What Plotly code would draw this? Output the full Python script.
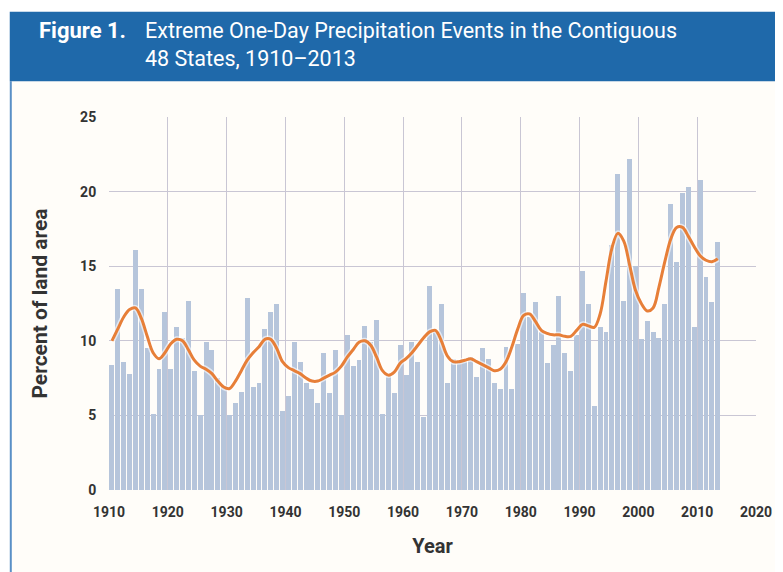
import plotly.graph_objects as go

years = list(range(1910, 2014))

percent_land_area = [
    8.4, 13.5, 8.6, 7.8, 16.1, 13.5, 9.5, 5.1, 8.1, 11.9,
    8.1, 10.9, 10.2, 12.7, 8.0, 5.0, 9.9, 9.4, 7.5, 6.9,
    5.0, 5.8, 6.6, 12.9, 6.9, 7.2, 10.8, 11.9, 12.5, 5.3,
    6.3, 9.9, 8.6, 7.2, 6.8, 5.8, 9.2, 6.5, 9.4, 5.0,
    10.4, 8.3, 8.7, 11.0, 9.9, 11.4, 5.1, 7.7, 6.5, 9.7,
    7.7, 9.9, 8.6, 4.9, 13.7, 10.6, 12.5, 7.2, 8.8, 8.5,
    8.6, 8.9, 7.6, 9.5, 8.8, 7.2, 6.8, 9.6, 6.8, 9.8,
    13.2, 11.6, 12.6, 10.6, 8.5, 9.7, 13.0, 9.2, 8.0, 10.4,
    14.7, 12.5, 5.6, 10.9, 10.6, 16.4, 21.2, 12.7, 22.2, 15.0,
    10.1, 11.3, 10.6, 10.2, 12.5, 19.2, 15.3, 19.9, 20.3, 10.9,
    20.8, 14.3, 12.6, 16.6,
]

smoothed_avg = [
    10.0, 10.8, 11.6, 12.1, 12.2, 11.5, 10.3, 9.2, 8.8, 9.2,
    9.8, 10.1, 10.0, 9.4, 8.7, 8.3, 8.1, 7.8, 7.3, 6.9,
    6.8, 7.3, 8.0, 8.7, 9.2, 9.6, 10.1, 10.1, 9.5, 8.6,
    8.2, 8.0, 7.8, 7.5, 7.3, 7.3, 7.5, 7.7, 7.9, 8.3,
    8.9, 9.4, 9.9, 10.0, 9.7, 8.9, 8.0, 7.7, 7.9, 8.5,
    8.8, 9.2, 9.7, 10.2, 10.6, 10.7, 10.0, 9.0, 8.6, 8.6,
    8.7, 8.8, 8.6, 8.4, 8.2, 8.0, 8.1, 8.6, 9.6, 10.8,
    11.7, 11.8, 11.3, 10.7, 10.5, 10.4, 10.4, 10.3, 10.3, 10.7,
    11.1, 11.0, 10.9, 11.8, 14.0, 16.2, 17.2, 16.7, 15.1, 13.4,
    12.5, 12.0, 12.2, 13.6, 15.3, 16.8, 17.6, 17.6, 17.0, 16.3,
    15.7, 15.4, 15.3, 15.5,
]

x_ticks = [1910, 1920, 1930, 1940, 1950, 1960, 1970, 1980, 1990, 2000, 2010, 2020]
y_ticks = [0, 5, 10, 15, 20, 25]

title_label = "Figure 1."
title_text = "Extreme One-Day Precipitation Events in the Contiguous<br>48 States, 1910–2013"

FONT = "Roboto, Liberation Sans, sans-serif"

line_x = [y + 0.5 for y in years]

fig = go.Figure()
fig.add_trace(go.Bar(
    x=years, y=percent_land_area, offset=0.08, width=0.84,
    marker=dict(color="#b6c5db", line=dict(width=0)),
    hoverinfo="x+y", showlegend=False,
))
fig.add_trace(go.Scatter(
    x=line_x, y=smoothed_avg, mode="lines",
    line=dict(color="rgba(255,255,255,0.6)", width=6, shape="spline"),
    hoverinfo="skip", showlegend=False,
))
fig.add_trace(go.Scatter(
    x=line_x, y=smoothed_avg, mode="lines",
    line=dict(color="#e77f38", width=3, shape="spline"),
    showlegend=False,
))

shapes = [
    # panel background
    dict(type="rect", xref="paper", yref="paper", x0=-0.1534, x1=1.06, y0=-0.26, y1=1.0959,
         fillcolor="#fffdf9", line=dict(width=0), layer="below"),
    # left border of panel
    dict(type="line", xref="paper", yref="paper", x0=-0.1518, x1=-0.1518, y0=-0.26, y1=1.0959,
         line=dict(color="#5a8fc6", width=2)),
    # title bar
    dict(type="rect", xref="paper", yref="paper", x0=-0.1534, x1=1.06, y0=1.0959, y1=1.282,
         fillcolor="#1f69aa", line=dict(width=0)),
]

fig.update_layout(
    width=775, height=564,
    margin=dict(l=101, r=27, t=109, b=82),
    paper_bgcolor="white",
    plot_bgcolor="#efedf6",
    bargap=0,
    shapes=shapes,
    font=dict(family=FONT, color="#333333"),
    xaxis=dict(
        range=[1910, 2020], tickmode="array", tickvals=x_ticks,
        ticktext=[f"<b>{t}</b>" for t in x_ticks],
        tickfont=dict(size=14, color="#333333", family=FONT),
        showgrid=True, gridcolor="#c9c6d4", gridwidth=1,
        zeroline=False, showline=False,
        ticks="outside", ticklen=9, tickcolor="rgba(0,0,0,0)",
        title=dict(text="<b>Year</b>", font=dict(size=20, color="#333333", family=FONT), standoff=20),
    ),
    yaxis=dict(
        range=[0, 25], tickmode="array", tickvals=y_ticks,
        ticktext=[f"<b>{t}</b>" for t in y_ticks],
        tickfont=dict(size=14, color="#333333", family=FONT),
        showgrid=True, gridcolor="#c9c6d4", gridwidth=1,
        zeroline=False, showline=False,
        ticks="outside", ticklen=9, tickcolor="rgba(0,0,0,0)",
        title=dict(text="<b>Percent of land area</b>", font=dict(size=21, color="#333333", family=FONT), standoff=26),
    ),
    annotations=[
        dict(xref="paper", yref="paper", x=-0.1111, y=1.2329, xanchor="left", yanchor="middle",
             text=f"<b>{title_label}</b>", showarrow=False,
             font=dict(size=22, color="white", family=FONT)),
        dict(xref="paper", yref="paper", x=0.0532, y=1.1945, xanchor="left", yanchor="middle",
             text=title_text, showarrow=False, align="left",
             font=dict(size=21.5, color="white", family=FONT)),
    ],
)

fig.write_html("out.html")
